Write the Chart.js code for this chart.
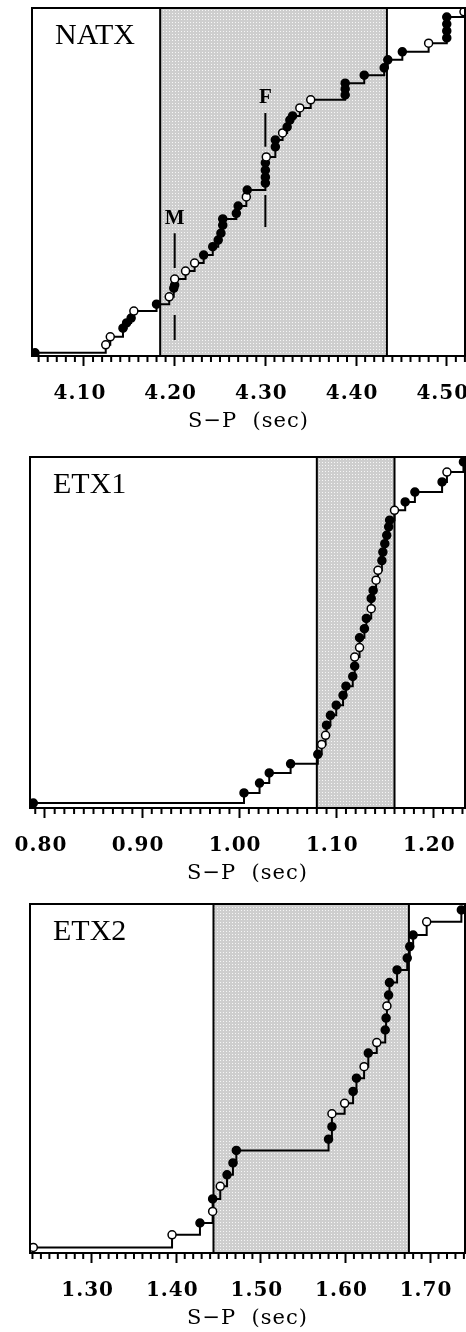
<!DOCTYPE html>
<html>
<head>
<meta charset="utf-8">
<script src="https://cdn.jsdelivr.net/npm/chart.js@4/dist/chart.umd.min.js"></script>
<style>
  html, body { margin: 0; padding: 0; background: #fff; overflow: hidden; }
  .panel { position: absolute; left: 0; width: 466px; height: 435px; }
</style>
</head>
<body>
<div class="panel" style="top:0px"><canvas id="natx" width="466" height="435"></canvas></div>
<div class="panel" style="top:452px"><canvas id="etx1" width="466" height="435"></canvas></div>
<div class="panel" style="top:897px"><canvas id="etx2" width="466" height="435"></canvas></div>
<script>
// ---- NATX ----
const natxSp = [4.046, 4.124, 4.129, 4.143, 4.147, 4.152, 4.155, 4.180, 4.194, 4.199,
                4.200, 4.200, 4.212, 4.222, 4.232, 4.242, 4.248, 4.251, 4.253, 4.253,
                4.268, 4.270, 4.279, 4.280, 4.300, 4.300, 4.300, 4.300, 4.301, 4.311,
                4.311, 4.319, 4.324, 4.327, 4.330, 4.338, 4.350, 4.388, 4.388, 4.388,
                4.409, 4.431, 4.435, 4.451, 4.480, 4.500, 4.500, 4.500, 4.500, 4.519];
const natxCum = [0.9, 3.2, 5.5, 8.0, 9.5, 10.9, 12.9, 14.9, 17.0, 19.5,
                 20.4, 22.1, 24.4, 26.7, 29.0, 31.4, 33.3, 35.3, 37.6, 39.4,
                 41.0, 43.1, 45.7, 47.7, 49.7, 51.4, 53.4, 55.5, 57.2, 60.1,
                 62.1, 64.1, 65.8, 67.8, 69.0, 71.3, 73.6, 75.0, 76.7, 78.4,
                 80.7, 82.8, 85.1, 87.4, 89.9, 91.4, 93.4, 95.4, 97.4, 98.9];
const natxOpen = [0, 1, 1, 0, 0, 0, 1, 0, 1, 0,
                  0, 1, 1, 1, 0, 0, 0, 0, 0, 0,
                  0, 0, 1, 0, 0, 0, 0, 0, 1, 0,
                  0, 1, 0, 0, 0, 1, 1, 0, 0, 0,
                  0, 0, 0, 0, 1, 0, 0, 0, 0, 1];  // 1 = open symbol
const natxBand = [4.184, 4.434];
const natxRange = [4.0427, 4.5201];
const natxTicks = [4.10, 4.20, 4.30, 4.40, 4.50];
const natxMarkNames = ["M", "F"];
const natxMarkSp = [4.20, 4.30];
const natxMarkLabelY = [39.5, 74.4];
const natxMarkSegs = [[35.3, 25.3, 11.8, 4.6], [69.8, 60.1, 46.3, 37.1]];

// ---- ETX1 ----
const etx1Sp = [0.788, 1.005, 1.021, 1.031, 1.053, 1.081, 1.085, 1.089, 1.090, 1.094,
                1.100, 1.107, 1.110, 1.117, 1.119, 1.119, 1.124, 1.124, 1.129, 1.131,
                1.136, 1.136, 1.138, 1.141, 1.143, 1.147, 1.148, 1.150, 1.152, 1.154,
                1.155, 1.160, 1.171, 1.181, 1.209, 1.214, 1.231];
const etx1Cum = [1.4, 4.3, 7.1, 10.0, 12.6, 15.3, 18.1, 20.7, 23.6, 26.4,
                 29.3, 32.1, 34.7, 37.5, 40.4, 43.0, 45.7, 48.5, 51.1, 54.0,
                 56.8, 59.7, 62.0, 64.9, 67.7, 70.5, 72.9, 75.3, 77.7, 80.1,
                 82.0, 84.8, 87.2, 90.0, 92.9, 95.7, 98.6];
const etx1Open = [0, 0, 0, 0, 0, 0, 1, 1, 0, 0,
                  0, 0, 0, 0, 0, 1, 1, 0, 0, 0,
                  1, 0, 0, 1, 1, 0, 0, 0, 0, 0,
                  0, 1, 0, 0, 0, 1, 0];
const etx1Band = [1.080, 1.160];
const etx1Range = [0.7846, 1.2326];
const etx1Ticks = [0.80, 0.90, 1.00, 1.10, 1.20];

// ---- ETX2 ----
const etx2Sp = [1.231, 1.395, 1.428, 1.443, 1.443, 1.452, 1.460, 1.467, 1.471, 1.580,
                1.584, 1.584, 1.599, 1.609, 1.613, 1.622, 1.627, 1.637, 1.647, 1.648,
                1.649, 1.651, 1.652, 1.661, 1.673, 1.676, 1.680, 1.696, 1.737];
const etx2Cum = [1.6, 5.2, 8.6, 11.9, 15.5, 19.1, 22.4, 25.8, 29.4, 32.6,
                 36.2, 39.9, 42.9, 46.3, 50.1, 53.4, 57.3, 60.3, 63.9, 67.3,
                 70.8, 73.9, 77.5, 81.1, 84.5, 87.8, 91.1, 94.9, 98.3];
const etx2Open = [1, 1, 0, 1, 0, 1, 0, 0, 0, 0,
                  0, 1, 1, 0, 0, 1, 0, 1, 0, 0,
                  1, 0, 0, 0, 0, 0, 0, 1, 0];
const etx2Band = [1.444, 1.675];
const etx2Range = [1.2271, 1.7413];
const etx2Ticks = [1.30, 1.40, 1.50, 1.60, 1.70];

document.addEventListener("DOMContentLoaded", function () {
    // stippled grey used for the shaded window
    const makeDots = () => {
        const c = document.createElement("canvas");
        c.width = 3; c.height = 3;
        const g = c.getContext("2d");
        g.fillStyle = "#cecece"; g.fillRect(0, 0, 3, 3);
        g.fillStyle = "#f6f6f6"; g.fillRect(1, 1, 1, 1);
        return g.createPattern(c, "repeat");
    };
    const dots = makeDots();

    // frame, minor ticks, panel name and M/F labels
    const decor = {
        id: "decor",
        beforeDraw(chart) { chart.ctx.letterSpacing = "1px"; },
        afterDraw(chart, args, opts) {
            const { ctx, chartArea: a, scales: { x, y } } = chart;
            ctx.save();
            ctx.letterSpacing = "0px";
            ctx.strokeStyle = "#000";
            ctx.lineWidth = 2;
            ctx.strokeRect(a.left, a.top, a.right - a.left, a.bottom - a.top);
            for (let k = Math.ceil(x.min * 100); k <= x.max * 100; k++) {
                if (k % 10 === 0) continue;  // majors come from Chart.js
                const px = x.getPixelForValue(k / 100);
                ctx.beginPath();
                ctx.moveTo(px, a.bottom);
                ctx.lineTo(px, a.bottom + 6);
                ctx.stroke();
            }
            ctx.fillStyle = "#000";
            ctx.font = '30px "Liberation Serif"';
            ctx.textBaseline = "alphabetic";
            ctx.fillText(opts.name, a.left + 23, a.top + 36);
            ctx.font = 'bold 21px "Liberation Serif"';
            ctx.textAlign = "center";
            ctx.textBaseline = "middle";
            (opts.marks || []).forEach(m => {
                ctx.fillText(m.name, x.getPixelForValue(m.x), y.getPixelForValue(m.y));
            });
            ctx.restore();
        }
    };

    const makePanel = (id, p) => {
        const datasets = [];
        // cumulative step curve
        datasets.push({
            data: p.sp.map((v, i) => ({ x: v, y: p.cum[i] })),
            showLine: true,
            stepped: "before",
            borderColor: "#000",
            borderWidth: 2,
            pointRadius: 4,
            pointBorderWidth: 1.5,
            pointBorderColor: "#000",
            pointBackgroundColor: p.open.map(o => o ? "#fff" : "#000"),
            order: 0
        });
        // M / F bars
        (p.marks || []).forEach(m => {
            datasets.push({
                data: [{ x: m.x, y: m.segs[0] }, { x: m.x, y: m.segs[1] }, { x: m.x, y: null },
                       { x: m.x, y: m.segs[2] }, { x: m.x, y: m.segs[3] }],
                showLine: true, spanGaps: false,
                borderColor: "#000", borderWidth: 2, pointRadius: 0, order: 1
            });
        });
        // window edges
        datasets.push({
            data: [{ x: p.band[0], y: 0 }, { x: p.band[0], y: 100 }, { x: p.band[0], y: null },
                   { x: p.band[1], y: 100 }, { x: p.band[1], y: 0 }],
            showLine: true, spanGaps: false,
            borderColor: "#000", borderWidth: 2, pointRadius: 0, order: 2
        });
        // shaded window
        datasets.push({
            data: [{ x: p.band[0], y: 100 }, { x: p.band[1], y: 100 }],
            showLine: true, fill: "start",
            backgroundColor: dots, borderWidth: 0, pointRadius: 0, order: 3
        });

        return new Chart(document.getElementById(id).getContext("2d"), {
            type: "scatter",
            data: { datasets },
            options: {
                responsive: false,
                animation: false,
                layout: { autoPadding: false, padding: { left: p.left, top: p.top, right: 1, bottom: 0 } },
                plugins: {
                    legend: { display: false },
                    tooltip: { enabled: false },
                    decor: { name: p.name, marks: p.marks }
                },
                scales: {
                    x: {
                        type: "linear",
                        min: p.range[0],
                        max: p.range[1],
                        afterBuildTicks: s => { s.ticks = p.ticks.map(v => ({ value: v })); },
                        afterFit: s => { s.height = 79; s.paddingLeft = 0; s.paddingRight = 0; },
                        border: { display: false },
                        grid: { drawOnChartArea: false, drawTicks: true, tickLength: 10, tickWidth: 2, tickColor: "#000" },
                        ticks: {
                            autoSkip: false, maxRotation: 0, padding: 16, labelOffset: -4,
                            color: "#000",
                            font: { family: "DejaVu Serif", size: 20, weight: "bold" },
                            callback: v => Number(v).toFixed(2)
                        },
                        title: {
                            display: true, text: "S\u2212P  (sec)", color: "#000",
                            font: { family: "DejaVu Serif", size: 21 },
                            padding: { top: 0, bottom: 1 }
                        }
                    },
                    y: { display: false, min: 0, max: 100 }
                }
            },
            plugins: [decor]
        });
    };

    makePanel("natx", {
        name: "NATX", sp: natxSp, cum: natxCum, open: natxOpen, band: natxBand,
        range: natxRange, ticks: natxTicks, left: 32, top: 8,
        marks: natxMarkNames.map((n, i) => ({ name: n, x: natxMarkSp[i], y: natxMarkLabelY[i], segs: natxMarkSegs[i] }))
    });
    makePanel("etx1", {
        name: "ETX1", sp: etx1Sp, cum: etx1Cum, open: etx1Open, band: etx1Band,
        range: etx1Range, ticks: etx1Ticks, left: 30, top: 5
    });
    makePanel("etx2", {
        name: "ETX2", sp: etx2Sp, cum: etx2Cum, open: etx2Open, band: etx2Band,
        range: etx2Range, ticks: etx2Ticks, left: 30, top: 7
    });
});
</script>
</body>
</html>
